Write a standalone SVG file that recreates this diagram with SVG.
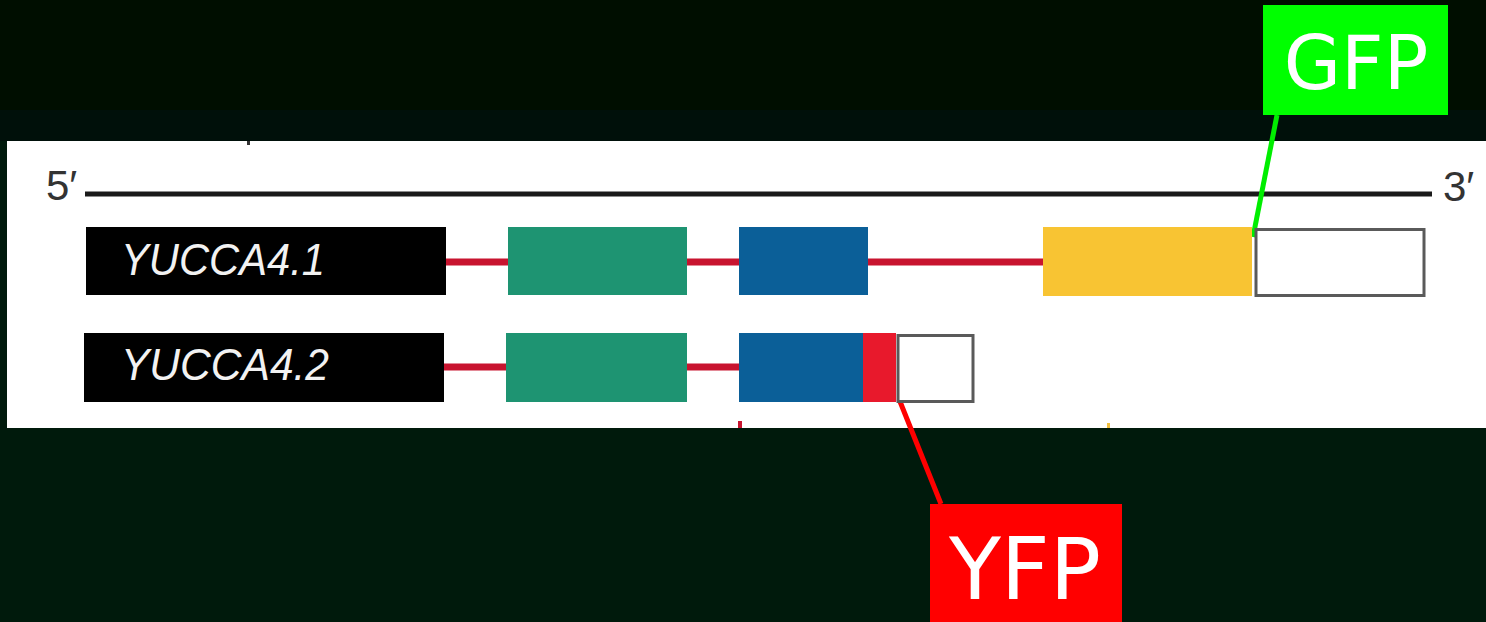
<svg xmlns="http://www.w3.org/2000/svg" width="1486" height="622" viewBox="0 0 1486 622">
<style>
.lbl{font-family:"Liberation Sans",Arial,sans-serif;font-style:italic;font-size:44px;fill:#f2f2f2}
.end{font-family:"Liberation Sans",Arial,sans-serif;font-size:42px;fill:#333}
.tag{font-family:"DejaVu Sans",sans-serif;fill:#ffffff}
.intron{stroke:#c8142f;stroke-width:7}
.gene{fill:#000}
.ex1{fill:#1e9472}
.ex2{fill:#0b5f98}
.ex3{fill:#f8c433}
.utr{fill:#fff;stroke:#5a5a5a;stroke-width:3}
</style>
<rect x="0" y="0" width="1486" height="622" fill="#001a0c"/>
<rect x="0" y="0" width="1486" height="110" fill="#000e00"/>
<rect x="0" y="110" width="1486" height="31" fill="#00100a"/>
<rect x="7" y="141" width="1479" height="287" fill="#ffffff"/>
<rect x="247" y="141" width="3" height="4" fill="#333"/>
<rect x="738" y="421" width="4" height="7" fill="#c8142f"/>
<rect x="1107" y="423" width="3" height="5" fill="#f0c040"/>
<g id="axis">
<line x1="85" y1="194" x2="1432" y2="194" stroke="#1a1a1a" stroke-width="5"/>
<text class="end" x="46" y="200">5′</text>
<text class="end" x="1443" y="201">3′</text>
</g>
<g id="connectors">
<line class="intron" x1="445" y1="262" x2="508" y2="262"/>
<line class="intron" x1="687" y1="262" x2="739" y2="262"/>
<line class="intron" x1="867" y1="262" x2="1043" y2="262"/>
<line class="intron" x1="443" y1="367" x2="506" y2="367"/>
<line class="intron" x1="687" y1="367" x2="739" y2="367"/>
<line x1="1277" y1="115" x2="1253" y2="237" stroke="#00ee00" stroke-width="5"/>
<line x1="899" y1="399" x2="941" y2="504" stroke="#ff0000" stroke-width="5"/>
</g>
<g id="yucca41">
<rect class="gene" x="86" y="227" width="360" height="68"/>
<text class="lbl" x="121" y="275" textLength="204" lengthAdjust="spacingAndGlyphs">YUCCA4.1</text>
<rect class="ex1" x="508" y="227" width="179" height="68"/>
<rect class="ex2" x="739" y="227" width="129" height="68"/>
<rect class="ex3" x="1043" y="227" width="209" height="69"/>
<rect class="utr" x="1256" y="229.5" width="168" height="66"/>
</g>
<g id="yucca42">
<rect class="gene" x="84" y="333" width="360" height="69"/>
<text class="lbl" x="121" y="380" textLength="208" lengthAdjust="spacingAndGlyphs">YUCCA4.2</text>
<rect class="ex1" x="506" y="333" width="181" height="69"/>
<rect class="ex2" x="739" y="333" width="124" height="69"/>
<rect x="863" y="333" width="33" height="69" fill="#e8192c"/>
<rect class="utr" x="898" y="335.5" width="75" height="66"/>
</g>
<g id="gfp">
<rect x="1263" y="5" width="185" height="110" fill="#00ff00"/>
<text class="tag" x="1356" y="89" font-size="74" text-anchor="middle">GFP</text>
</g>
<g id="yfp">
<rect x="930" y="504" width="192" height="118" fill="#ff0000"/>
<text class="tag" x="1025" y="599" font-size="85" text-anchor="middle">YFP</text>
</g>
</svg>
